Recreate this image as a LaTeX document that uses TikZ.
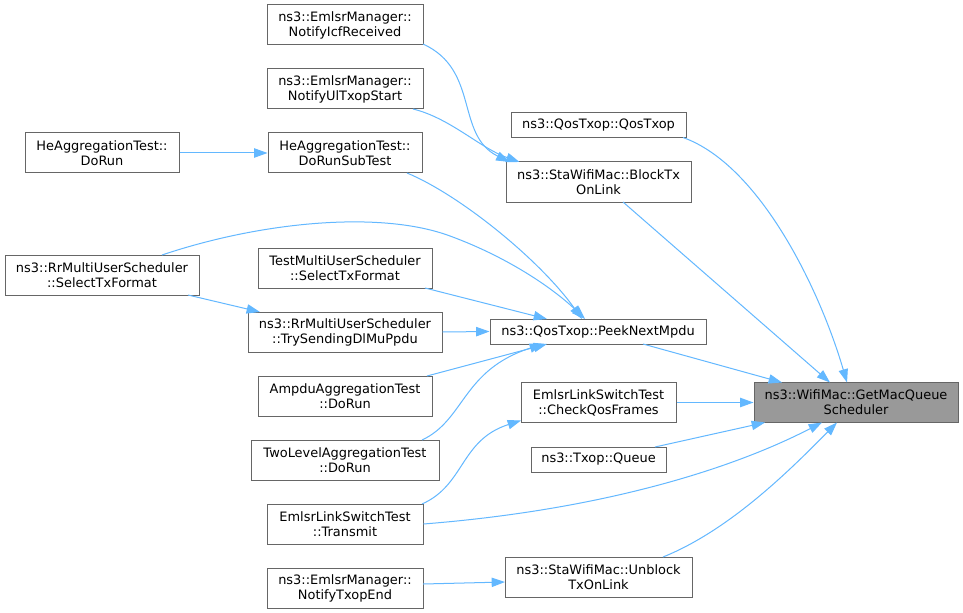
\documentclass[tikz,border=0pt]{standalone}
\usepackage{fontspec}
\setmainfont{DejaVu Sans}
\usetikzlibrary{arrows.meta,calc}
\definecolor{edgeblue}{HTML}{63B8FF}
\definecolor{gforty}{HTML}{666666}
\definecolor{gsixty}{HTML}{999999}
\begin{document}
\begin{tikzpicture}[x=0.75pt,y=-0.75pt,
  box/.style={draw=gforty, fill=white, line width=0.75pt, inner sep=0pt, align=center,
    minimum height=30pt, font={\fontsize{9.7pt}{11.25pt}\selectfont}},
  onebox/.style={box, minimum height=18.75pt},
  edge/.style={draw=edgeblue, line width=0.75pt, -{Triangle[length=10pt,width=7pt]}}]
\fill[white] (0,0) rectangle (963,613);
\useasboundingbox (0,0) rectangle (963,613);
% left column
\node[box, minimum width=115.5pt] (herun) at (102,153) {HeAggregationTest::\\DoRun};
\node[box, minimum width=145.5pt] (rrsel) at (102,275) {ns3::RrMultiUserScheduler\\::SelectTxFormat};
% second column
\node[box, minimum width=117pt] (icf) at (345,25) {ns3::EmlsrManager::\\NotifyIcfReceived};
\node[box, minimum width=117pt] (ul) at (345,89) {ns3::EmlsrManager::\\NotifyUlTxopStart};
\node[box, minimum width=115.5pt] (subtest) at (345,153) {HeAggregationTest::\\DoRunSubTest};
\node[box, minimum width=130.5pt] (testmu) at (345,268) {TestMultiUserScheduler\\::SelectTxFormat};
\node[box, minimum width=145.5pt] (trysend) at (345,332) {ns3::RrMultiUserScheduler\\::TrySendingDlMuPpdu};
\node[box, minimum width=130.5pt] (ampdu) at (345,396) {AmpduAggregationTest\\::DoRun};
\node[box, minimum width=141pt] (twolevel) at (345,460) {TwoLevelAggregationTest\\::DoRun};
\node[box, minimum width=117pt] (transmit) at (345,524) {EmlsrLinkSwitchTest\\::Transmit};
\node[box, minimum width=117pt] (txopend) at (345,588) {ns3::EmlsrManager::\\NotifyTxopEnd};
% third column
\node[onebox, minimum width=131.25pt] (qostxop) at (598.5,125) {ns3::QosTxop::QosTxop};
\node[box, minimum width=138.75pt] (blocktx) at (598.5,182) {ns3::StaWifiMac::BlockTx\\OnLink};
\node[onebox, minimum width=162pt] (peek) at (598,331.5) {ns3::QosTxop::PeekNextMpdu};
\node[box, minimum width=116.25pt] (checkqos) at (598.5,402.5) {EmlsrLinkSwitchTest\\::CheckQosFrames};
\node[onebox, minimum width=101.25pt] (queue) at (598.5,459.5) {ns3::Txop::Queue};
\node[box, minimum width=140.25pt] (unblock) at (598.5,577) {ns3::StaWifiMac::Unblock\\TxOnLink};
% focus node
\node[box, fill=gsixty, minimum width=153pt] (getmac) at (856,402.5) {ns3::WifiMac::GetMacQueue\\Scheduler};
% edges
\draw[edge] ($(icf.center)+(78,19)$) .. controls (480,70) and (455,135) .. ($(blocktx.center)+(-89,-20)$);
\draw[edge] ($(ul.center)+(68,20)$) .. controls (450,118) and (480,148) .. ($(blocktx.center)+(-79,-20)$);
\draw[edge] (herun.east) -- (subtest.west);
\draw[edge] ($(subtest.center)+(62,20)$) .. controls (460,195) and (540,260) .. ($(peek.center)+(-16,-12.5)$);
\draw[edge] ($(rrsel.center)+(60,-20)$) .. controls (260,222) and (380,210) .. (450,236)
   .. controls (510,258) and (555,290) .. ($(peek.center)+(-13,-12.5)$);
\draw[edge] ($(rrsel.center)+(86,20)$) -- ($(trysend.center)+(-85,-20)$);
\draw[edge] ($(testmu.center)+(80,20)$) -- ($(peek.center)+(-51,-12.5)$);
\draw[edge] (trysend.east) -- (peek.west);
\draw[edge] ($(ampdu.center)+(82,-20)$) -- ($(peek.center)+(-51,12.5)$);
\draw[edge] ($(twolevel.center)+(77,-20)$) .. controls (465,420) and (462,370) .. ($(peek.center)+(-55,12.5)$);
\draw[edge] ($(transmit.center)+(77,-20)$) .. controls (465,485) and (460,440) .. ($(checkqos.center)+(-77.5,18)$);
\draw[edge] (transmit.east) .. controls (600,510) and (730,470) .. ($(getmac.center)+(-34,20)$);
\draw[edge] ($(txopend.center)+(78,-4)$) -- ($(unblock.center)+(-93.5,5)$);
\draw[edge] ($(qostxop.center)+(84.5,12.5)$) .. controls (760,165) and (820,290) .. ($(getmac.center)+(-9,-20)$);
\draw[edge] ($(blocktx.center)+(24.5,20)$) -- ($(getmac.center)+(-26,-20)$);
\draw[edge] ($(peek.center)+(45,12.5)$) -- ($(getmac.center)+(-74,-20)$);
\draw[edge] (checkqos.east) -- (getmac.west);
\draw[edge] ($(queue.center)+(56.5,-12.5)$) -- ($(getmac.center)+(-91,20)$);
\draw[edge] ($(unblock.center)+(64.5,-20)$) .. controls (730,530) and (790,470) .. ($(getmac.center)+(-19,20)$);
\end{tikzpicture}
\end{document}
